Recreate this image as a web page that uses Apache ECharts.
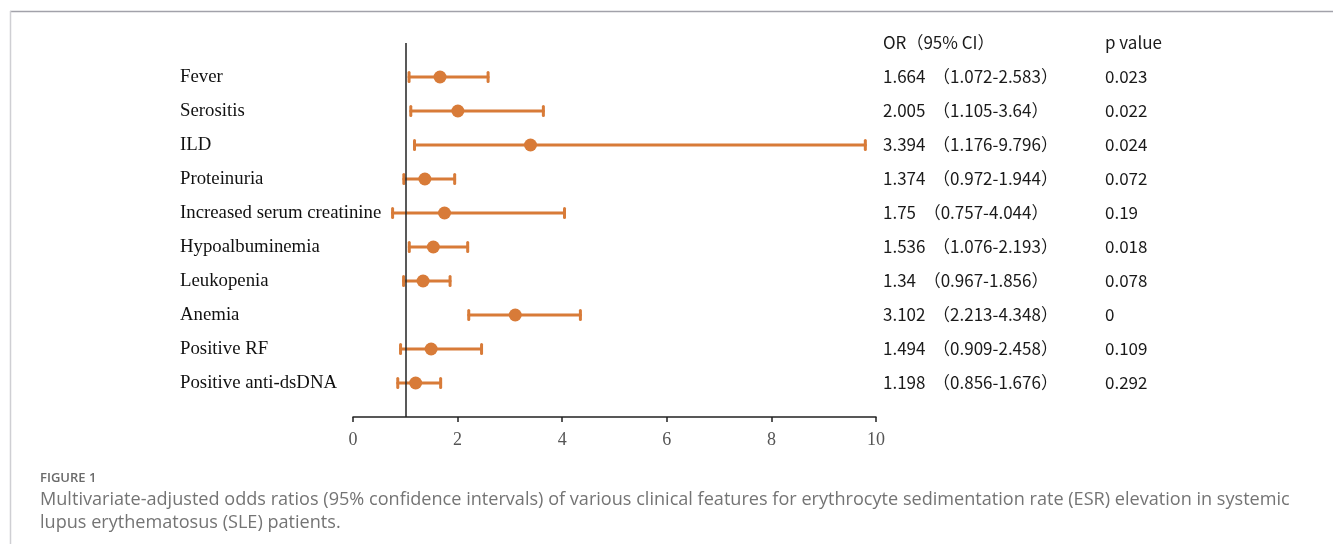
<!DOCTYPE html>
<html>
<head>
<meta charset="utf-8">
<script src="https://cdn.jsdelivr.net/npm/echarts@6/dist/echarts.min.js"></script>
<style>
html,body{margin:0;padding:0;background:#fff;}
#chart{width:1333px;height:544px;}
</style>
</head>
<body>
<div id="chart"></div>
<script>
const categories = ['Fever','Serositis','ILD','Proteinuria','Increased serum creatinine','Hypoalbuminemia','Leukopenia','Anemia','Positive RF','Positive anti-dsDNA'];
const orValues = [1.664, 2.005, 3.394, 1.374, 1.75, 1.536, 1.34, 3.102, 1.494, 1.198];
const ciLower = [1.072, 1.105, 1.176, 0.972, 0.757, 1.076, 0.967, 2.213, 0.909, 0.856];
const ciUpper = [2.583, 3.64, 9.796, 1.944, 4.044, 2.193, 1.856, 4.348, 2.458, 1.676];
const pValues = ['0.023','0.022','0.024','0.072','0.19','0.018','0.078','0','0.109','0.292'];
const xTicks = [0, 2, 4, 6, 8, 10];
const headerOR = 'OR（95% CI）';
const headerP = 'p value';
const captionTitle = 'FIGURE 1';
const captionLines = [
  'Multivariate-adjusted odds ratios (95% confidence intervals) of various clinical features for erythrocyte sedimentation rate (ESR) elevation in systemic',
  'lupus erythematosus (SLE) patients.'
];

const COLOR = '#D87B38';
const chart = echarts.init(document.getElementById('chart'));

const ciData = categories.map((c, i) => [ciLower[i], ciUpper[i], i]);
const pointData = categories.map((c, i) => [orValues[i], i]);
const orText = categories.map((c, i) => orValues[i] + '  （' + ciLower[i] + '-' + ciUpper[i] + '）');

const yBase = {
  type: 'value', min: -1, max: 10, interval: 1, inverse: true,
  axisLine: {show: false}, axisTick: {show: false}, splitLine: {show: false}
};

chart.setOption({
  animation: false,
  grid: {left: 353, right: 457, top: 43, bottom: 127, containLabel: false},
  xAxis: {
    type: 'value', min: xTicks[0], max: xTicks[xTicks.length - 1], interval: 2,
    position: 'bottom',
    axisLine: {show: true, onZero: false, lineStyle: {color: '#222', width: 1.5}},
    axisTick: {show: true, inside: false, length: 5, lineStyle: {color: '#222', width: 1.5}},
    splitLine: {show: false},
    axisLabel: {margin: 14, fontFamily: 'Liberation Serif', fontSize: 18, color: '#555'}
  },
  yAxis: [
    Object.assign({}, yBase, {
      position: 'left',
      axisLabel: {
        align: 'left', margin: 173, fontFamily: 'Liberation Serif', fontSize: 18.8, color: '#111',
        padding: [2, 0, 0, 0],
        formatter: v => (v >= 0 && v < categories.length) ? categories[v] : ''
      }
    }),
    Object.assign({}, yBase, {
      position: 'right',
      axisLabel: {
        align: 'left', margin: 7, fontFamily: 'Noto Sans CJK SC', fontSize: 17, color: '#1a1a1a',
        padding: [3, 0, 0, 0],
        formatter: v => v === -1 ? headerOR : ((v >= 0 && v < categories.length) ? orText[v] : '')
      }
    }),
    Object.assign({}, yBase, {
      position: 'right',
      axisLabel: {
        align: 'left', margin: 229, fontFamily: 'Noto Sans CJK SC', fontSize: 17, color: '#1a1a1a',
        padding: [3, 0, 0, 0],
        formatter: v => v === -1 ? headerP : ((v >= 0 && v < categories.length) ? pValues[v] : '')
      }
    })
  ],
  series: [
    {
      type: 'custom',
      yAxisIndex: 0,
      data: ciData,
      encode: {x: [0, 1], y: 2},
      renderItem: function (params, api) {
        const lo = api.coord([api.value(0), api.value(2)]);
        const hi = api.coord([api.value(1), api.value(2)]);
        const h = 4.5;
        const style = {stroke: COLOR, lineWidth: 3, lineCap: 'round'};
        return {
          type: 'group',
          children: [
            {type: 'line', shape: {x1: lo[0], y1: lo[1], x2: hi[0], y2: hi[1]}, style: style},
            {type: 'line', shape: {x1: lo[0], y1: lo[1] - h, x2: lo[0], y2: lo[1] + h}, style: style},
            {type: 'line', shape: {x1: hi[0], y1: hi[1] - h, x2: hi[0], y2: hi[1] + h}, style: style}
          ]
        };
      },
      z: 2
    },
    {
      type: 'scatter',
      yAxisIndex: 0,
      data: pointData,
      symbol: 'circle',
      symbolSize: 13,
      itemStyle: {color: COLOR, opacity: 1},
      z: 3,
      markLine: {
        silent: true,
        symbol: 'none',
        label: {show: false},
        lineStyle: {color: '#222', width: 1.5, type: 'solid'},
        data: [{xAxis: 1}]
      }
    }
  ],
  graphic: [
    {type: 'line', shape: {x1: 10, y1: 11.5, x2: 1333, y2: 11.5}, style: {stroke: '#a2a2aa', lineWidth: 1.5}},
    {type: 'line', shape: {x1: 10.5, y1: 11, x2: 10.5, y2: 544}, style: {stroke: '#cfcfd3', lineWidth: 1.5}},
    {type: 'text', left: 40, top: 472, style: {text: captionTitle, fontFamily: 'Open Sans', fontSize: 13, fontWeight: 600, fill: '#6a6a6a'}},
    {type: 'text', left: 40, top: 491, style: {text: captionLines[0], fontFamily: 'Open Sans', fontSize: 18.1, fill: '#747474'}},
    {type: 'text', left: 40, top: 514, style: {text: captionLines[1], fontFamily: 'Open Sans', fontSize: 18.1, fill: '#747474'}}
  ]
});
</script>
</body>
</html>
